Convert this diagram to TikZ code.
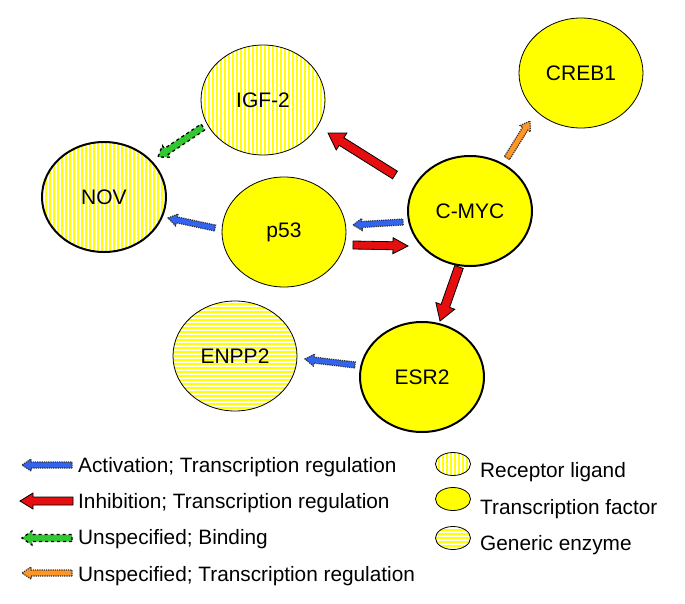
\documentclass[tikz,border=0pt]{standalone}
\usepackage{fontspec}
\setmainfont{Liberation Sans}
\usetikzlibrary{shapes.geometric,calc}
\definecolor{tfyellow}{RGB}{255,255,0}
\definecolor{actblue}{RGB}{50,100,240}
\definecolor{inhred}{RGB}{230,15,15}
\definecolor{bindgreen}{RGB}{50,200,50}
\definecolor{unsorange}{RGB}{255,150,40}
% block arrow: style, from, to, shaft half width, head half width, head length
\newcommand\blk[6]{%
 \path[#1] let \p1=(#2), \p2=(#3), \n1={atan2(\y2-\y1,\x2-\x1)}, \n2={veclen(\x2-\x1,\y2-\y1)-#6} in
 ($(\p1)+(\n1+90:#4)$) -- ($(\p1)+(\n1:\n2)+(\n1+90:#4)$) -- ($(\p1)+(\n1:\n2)+(\n1+90:#5)$) -- (\p2)
 -- ($(\p1)+(\n1:\n2)+(\n1-90:#5)$) -- ($(\p1)+(\n1:\n2)+(\n1-90:#4)$) -- ($(\p1)+(\n1-90:#4)$) -- cycle;}
\tikzset{
 gene/.style={ellipse, draw=black, inner sep=0pt, minimum width=124pt, minimum height=110pt,
   font=\fontsize{21}{24}\selectfont, line width=0.8pt},
 thick/.style={line width=2pt},
 tfactor/.style={gene, fill=tfyellow},
 vstripes/.style={path picture={
   \foreach \i in {-64,-60,...,64}
     \draw[white, line width=1.4pt] ([xshift=\i pt]path picture bounding box.north) -- ([xshift=\i pt]path picture bounding box.south);}},
 hstripes/.style={path picture={
   \foreach \i in {-58,-54,...,58}
     \draw[white, line width=1.4pt] ([yshift=\i pt]path picture bounding box.west) -- ([yshift=\i pt]path picture bounding box.east);}},
 ligand/.style={gene, fill=tfyellow, vstripes},
 enzyme/.style={gene, fill=tfyellow, hstripes},
 legtf/.style={tfactor, minimum width=35pt, minimum height=23pt, line width=0.8pt},
 legli/.style={ligand, minimum width=35pt, minimum height=23pt, line width=0.8pt},
 legen/.style={enzyme, minimum width=35pt, minimum height=23pt, line width=0.8pt},
 legtext/.style={anchor=base west, inner sep=0pt, font=\fontsize{20.8}{24}\selectfont},
 actarrow/.style={fill=actblue, draw=black!80, densely dotted, line width=1.2pt},
 inharrow/.style={fill=inhred, draw=black, line width=0.8pt},
 bindarrow/.style={fill=bindgreen, draw=black, dashed, line width=1.3pt},
 unsarrow/.style={fill=unsorange, draw=black!80, densely dotted, line width=1.2pt},
}
\begin{document}
\begin{tikzpicture}[x=1pt,y=1pt]
\fill[white] (0,0) rectangle (685,-603);
\useasboundingbox (0,0) rectangle (685,-603);

% nodes
\node[ligand] (igf2) at (263,-100) {IGF-2};
\node[ligand, thick] (nov) at (104,-197) {NOV};
\node[tfactor] (p53) at (284,-232) {p53};
\node[tfactor, thick] (cmyc) at (470,-211) {C-MYC};
\node[tfactor] (creb1) at (581,-73) {CREB1};
\node[tfactor, thick] (esr2) at (422,-377) {ESR2};
\node[enzyme] (enpp2) at (235,-356) {ENPP2};

% arrow end points, placed relative to their nodes
\coordinate (a1s) at ($(cmyc)+(-75,36)$);   \coordinate (a1e) at ($(igf2)+(65,-33)$);
\coordinate (a2s) at ($(p53)+(69,-13)$);    \coordinate (a2e) at ($(cmyc)+(-62,-35)$);
\coordinate (a3s) at ($(cmyc)+(-11,-56)$);  \coordinate (a3e) at ($(esr2)+(18,56)$);
\coordinate (a4s) at ($(cmyc)+(-67,-11)$);  \coordinate (a4e) at ($(p53)+(69,7)$);
\coordinate (a5s) at ($(p53)+(-69,4)$);     \coordinate (a5e) at ($(nov)+(64,-21)$);
\coordinate (a6s) at ($(esr2)+(-67,12)$);   \coordinate (a6e) at ($(enpp2)+(70,-3)$);
\coordinate (a7s) at ($(igf2)+(-60,-27)$);  \coordinate (a7e) at ($(nov)+(54,40)$);
\coordinate (a8s) at ($(cmyc)+(37,53)$);    \coordinate (a8e) at ($(creb1)+(-51,-48)$);

% connectors
\blk{inharrow}{a1s}{a1e}{4.5}{10}{16}
\blk{inharrow}{a2s}{a2e}{4}{8}{15}
\blk{inharrow}{a3s}{a3e}{4.5}{10}{16}
\blk{actarrow}{a4s}{a4e}{3}{6}{9}
\blk{actarrow}{a5s}{a5e}{3}{6}{9}
\blk{actarrow}{a6s}{a6e}{3}{6}{9}
\blk{bindarrow}{a7s}{a7e}{3.5}{7}{10}
\blk{unsarrow}{a8s}{a8e}{3}{6}{9}

% legend
\coordinate (l1s) at (72,-465); \coordinate (l1e) at (22,-465);
\coordinate (l2s) at (73,-501); \coordinate (l2e) at (20,-501);
\coordinate (l3s) at (72,-538); \coordinate (l3e) at (22,-538);
\coordinate (l4s) at (72,-573); \coordinate (l4e) at (22,-573);
\blk{actarrow}{l1s}{l1e}{3}{6}{9}
\blk{inharrow}{l2s}{l2e}{4}{8}{13}
\blk{bindarrow}{l3s}{l3e}{3.5}{7}{10}
\blk{unsarrow}{l4s}{l4e}{3}{6}{9}
\node[legtext] (t1) at (78,-472) {Activation; Transcription regulation};
\node[legtext] (t2) at (78,-508) {Inhibition; Transcription regulation};
\node[legtext] (t3) at (78,-544) {Unspecified; Binding};
\node[legtext] (t4) at (78,-581) {Unspecified; Transcription regulation};

\node[legli] (k1) at (453,-464) {};
\node[legtf] (k2) at (453,-499) {};
\node[legen] (k3) at (453,-538) {};
\node[legtext] (u1) at (480,-477) {Receptor ligand};
\node[legtext] (u2) at (480,-514) {Transcription factor};
\node[legtext] (u3) at (480,-550) {Generic enzyme};
\end{tikzpicture}
\end{document}
